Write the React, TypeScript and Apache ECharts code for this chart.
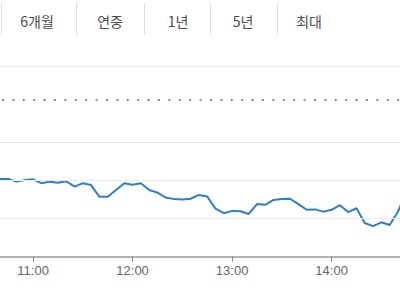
import React, { useEffect, useRef } from "react";
import * as echarts from "echarts";

const tabLabels = ["6개월", "연중", "1년", "5년", "최대"];
const tabCenters = [37, 110, 178, 243, 309];
const tabSeparators = [1, 76, 144, 210, 277];

const times = [
  "10:40", "10:45", "10:50", "10:55", "11:00", "11:05", "11:10", "11:15", "11:20", "11:25",
  "11:30", "11:35", "11:40", "11:45", "11:50", "11:55", "12:00", "12:05", "12:10", "12:15",
  "12:20", "12:25", "12:30", "12:35", "12:40", "12:45", "12:50", "12:55", "13:00", "13:05",
  "13:10", "13:15", "13:20", "13:25", "13:30", "13:35", "13:40", "13:45", "13:50", "13:55",
  "14:00", "14:05", "14:10", "14:15", "14:20", "14:25", "14:30", "14:35", "14:40", "14:45",
];
const prices = [
  2420.4, 2420.4, 2419.7, 2420.1, 2420.3, 2419.3, 2419.7, 2419.4, 2419.8, 2418.4,
  2419.3, 2418.8, 2415.7, 2415.7, 2417.5, 2419.3, 2418.9, 2419.3, 2417.5, 2416.8,
  2415.5, 2415.1, 2415.0, 2415.2, 2416.2, 2415.8, 2412.6, 2411.4, 2412.0, 2411.9,
  2411.2, 2413.8, 2413.6, 2414.9, 2415.1, 2415.2, 2413.8, 2412.3, 2412.4, 2411.8,
  2412.3, 2413.5, 2411.7, 2412.7, 2408.8, 2408.0, 2409.0, 2408.3, 2411.8, 2416.8,
];
const tickLabels = ["11:00", "12:00", "13:00", "14:00"];
const gridValues = [2410, 2420, 2430, 2450];
const prevClose = 2441.2;
const xRange = ["10:40", "14:41"];
const yRange = [2400, 2450];

const toMin = (s: string) => {
  const [h, m] = s.split(":").map(Number);
  return h * 60 + m;
};
const fmt = (v: number) => {
  const h = Math.floor(v / 60);
  const m = Math.round(v - h * 60);
  return `${h}:${m < 10 ? "0" + m : m}`;
};

export default function App() {
  const ref = useRef<HTMLDivElement>(null);
  useEffect(() => {
    if (!ref.current) return;
    const chart = echarts.init(ref.current, undefined, { renderer: "svg" });
    const data = times.map((t, i) => [toMin(t), prices[i]]);
    const tickVals = tickLabels.map(toMin);
    const graphics: any[] = [];
    tabLabels.forEach((t, i) => {
      graphics.push({
        type: "text",
        x: tabCenters[i],
        y: 21,
        style: {
          text: t,
          fill: "#4a4a4a",
          font: '14px "Noto Sans CJK KR", sans-serif',
          textAlign: "center",
          textVerticalAlign: "middle",
        },
      });
    });
    tabSeparators.forEach((x) => {
      graphics.push({
        type: "line",
        shape: { x1: x + 0.5, y1: 3, x2: x + 0.5, y2: 35 },
        style: { stroke: "#dddddd", lineWidth: 1 },
      });
    });
    chart.setOption({
      animation: false,
      backgroundColor: "#ffffff",
      grid: {
        left: 0,
        right: 0,
        top: 66.5,
        height: 190,
        containLabel: false,
        outerBoundsMode: "none",
      },
      xAxis: {
        type: "value",
        min: toMin(xRange[0]) + 0.05,
        max: toMin(xRange[1]) + 0.25,
        splitLine: { show: false },
        axisLine: { show: true, lineStyle: { color: "#b3b3b3", width: 2 } },
        axisTick: {
          show: true,
          customValues: tickVals,
          length: 5,
          lineStyle: { color: "#888888", width: 1 },
        },
        axisLabel: {
          show: true,
          customValues: tickVals,
          formatter: (v: number) => fmt(v),
          color: "#666666",
          fontSize: 13,
          fontFamily: '"Liberation Sans", Arial, sans-serif',
          margin: 7,
        },
      },
      yAxis: {
        type: "value",
        min: yRange[0],
        max: yRange[1],
        show: false,
        splitLine: { show: false },
      },
      graphic: graphics,
      series: [
        {
          type: "line",
          data,
          symbol: "none",
          silent: true,
          z: 1,
          lineStyle: { opacity: 0 },
          markLine: {
            symbol: "none",
            silent: true,
            label: { show: false },
            data: [
              ...gridValues.map((v) => ({
                yAxis: v,
                lineStyle: { color: "#ebebeb", width: 1, type: "solid" },
              })),
              {
                yAxis: prevClose,
                lineStyle: {
                  color: "#666666",
                  width: 1.5,
                  type: [2, 8.4],
                  dashOffset: -2,
                },
              },
            ],
          },
        },
        {
          type: "line",
          data,
          symbol: "none",
          z: 3,
          lineStyle: { color: "#2f7ec8", width: 2 },
        },
      ],
    });
    return () => chart.dispose();
  }, []);
  return (
    <div
      ref={ref}
      style={{ position: "absolute", left: 0, top: 0, width: 400, height: 300 }}
    />
  );
}
